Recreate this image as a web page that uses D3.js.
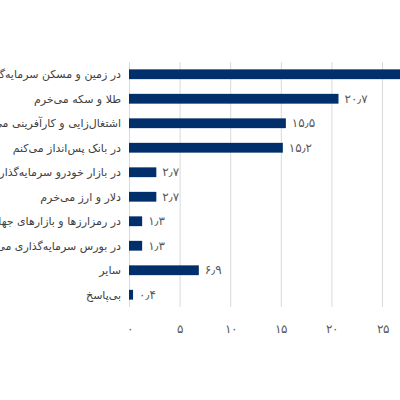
<!DOCTYPE html>
<html>
<head>
<meta charset="UTF-8">
<style>
  body { margin: 0; background: #fff; }
  svg { display: block; font-family: "DejaVu Sans", sans-serif; }
  .cat text { font-size: 11px; fill: #404040; }
  .val { font-size: 12px; fill: #595959; }
  .xaxis text { font-size: 12px; fill: #595959; }
</style>
<script src="https://cdn.jsdelivr.net/npm/d3@7"></script>
</head>
<body>
<script>
// داده‌ها
var categories = [
  "در زمین و مسکن سرمایه‌گذاری می‌کنم",
  "طلا و سکه می‌خرم",
  "اشتغال‌زایی و کارآفرینی می‌کنم",
  "در بانک پس‌انداز می‌کنم",
  "در بازار خودرو سرمایه‌گذاری می‌کنم",
  "دلار و ارز می‌خرم",
  "در رمزارزها و بازارهای جهانی سرمایه‌گذاری می‌کنم",
  "در بورس سرمایه‌گذاری می‌کنم",
  "سایر",
  "بی‌پاسخ"
];
var values = [33.3, 20.7, 15.5, 15.2, 2.7, 2.7, 1.3, 1.3, 6.9, 0.4];
var xTicks = [0, 5, 10, 15, 20, 25];

var width = 400, height = 400;
var mLeft = 129, mTop = 62, mBottom = 307;

// ارقام فارسی
function fa(n) {
  return String(n).replace(".", "\u066B").replace(/\d/g, function (c) { return "۰۱۲۳۴۵۶۷۸۹"[+c]; });
}

var x = d3.scaleLinear().domain([0, 30]).range([mLeft, mLeft + 30 * 10.12]);
var y = d3.scaleBand().domain(categories).range([mTop, mBottom]).paddingInner(0.6).paddingOuter(0.3);

var svg = d3.select("body").append("svg")
    .attr("width", width)
    .attr("height", height);

// خطوط شبکه
svg.append("g").selectAll("line")
    .data(xTicks)
    .enter().append("line")
    .attr("x1", function (d) { return x(d) + 0.5; })
    .attr("x2", function (d) { return x(d) + 0.5; })
    .attr("y1", mTop)
    .attr("y2", mBottom)
    .attr("stroke", "#d9d9d9")
    .attr("stroke-width", 1);

// محور افقی
var xAxis = svg.append("g")
    .attr("class", "xaxis")
    .attr("transform", "translate(0," + (mBottom + 14) + ")")
    .call(d3.axisBottom(x).tickValues(xTicks).tickFormat(fa).tickSize(0));
xAxis.select(".domain").remove();

// برچسب دسته‌ها
svg.append("g").attr("class", "cat").selectAll("text")
    .data(categories)
    .enter().append("text")
    .attr("x", mLeft - 8)
    .attr("y", function (d) { return y(d) + y.bandwidth() / 2; })
    .attr("dy", "0.35em")
    .attr("text-anchor", "end")
    .text(function (d) { return d; });

// میله‌ها
svg.append("g").selectAll("rect")
    .data(values)
    .enter().append("rect")
    .attr("x", x(0))
    .attr("y", function (d, i) { return y(categories[i]); })
    .attr("width", function (d) { return x(d) - x(0); })
    .attr("height", y.bandwidth())
    .attr("fill", "#002f6c");

// مقادیر
svg.append("g").selectAll("text")
    .data(values)
    .enter().append("text")
    .attr("class", "val")
    .attr("x", function (d) { return x(d) + 6; })
    .attr("y", function (d, i) { return y(categories[i]) + y.bandwidth() / 2; })
    .attr("dy", "0.35em")
    .text(function (d) { return fa(d); });
</script>
</body>
</html>
